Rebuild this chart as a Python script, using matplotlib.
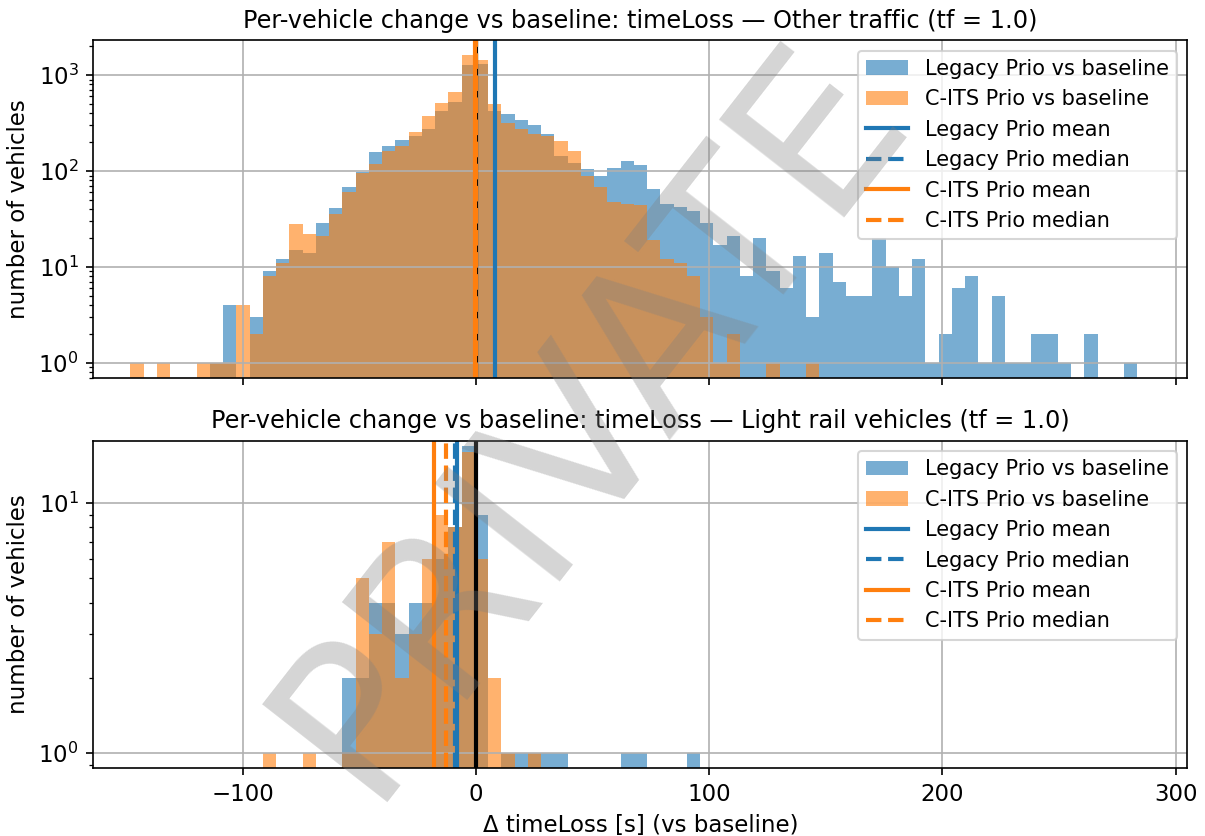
import matplotlib.pyplot as plt
import numpy as np

# bin edges shared by both panels (s)
bin_lo, bin_hi, n_bins = -148.1, 283.6, 76

# Other traffic: counts per bin
other_legacy = [0, 0, 0, 0, 0, 0, 1, 4, 0, 3, 9, 12, 15, 14, 29, 41, 69, 97, 158, 184,
                212, 230, 278, 428, 524, 1280, 1313, 428, 396, 343, 304, 243, 144, 121, 106, 90, 108, 127, 115, 65,
                45, 42, 38, 29, 17, 21, 8, 20, 9, 6, 13, 3, 14, 7, 5, 5, 20, 10, 5, 12,
                1, 2, 6, 8, 1, 5, 1, 1, 2, 2, 1, 0, 2, 0, 0, 1]
other_cits = [1, 0, 1, 0, 0, 1, 1, 1, 4, 2, 8, 11, 28, 22, 21, 36, 61, 95, 120, 163,
              181, 255, 380, 507, 665, 1629, 1432, 499, 316, 276, 245, 230, 207, 163, 88, 69, 48, 45, 44, 19,
              12, 11, 8, 3, 1, 2, 0, 0, 1, 0, 0, 1, 0, 0, 0, 0, 0, 0, 0, 0,
              0, 0, 0, 0, 0, 0, 0, 0, 0, 0, 0, 0, 0, 0, 0, 0]

# Light rail vehicles: counts per bin (bins 10..42, rest zero)
rail_first_bin = 10
rail_legacy = [0, 0, 0, 0, 0, 0, 2, 2, 4, 4, 3, 4, 4, 6, 8, 17, 9, 0, 1, 1, 1, 1, 1, 0, 0, 0, 0, 1, 1, 0, 0, 0, 1]
rail_cits = [1, 0, 0, 1, 0, 0, 1, 5, 3, 7, 2, 3, 6, 9, 8, 16, 6, 2, 1, 0, 1, 0, 0, 0, 0, 0, 0, 0, 0, 0, 0, 0, 0]

# mean / median (s)
other_stats = {'legacy': (8.4, 0.0), 'cits': (-0.2, 0.0)}
rail_stats = {'legacy': (-8.0, -9.0), 'cits': (-17.9, -12.7)}

edges = np.linspace(bin_lo, bin_hi, n_bins + 1)
centers = (edges[:-1] + edges[1:]) / 2


def pad(vals, first):
    full = np.zeros(n_bins)
    full[first:first + len(vals)] = vals
    return full


blue = 'tab:blue'
orange = 'tab:orange'

fig = plt.figure(figsize=(1205 / 150, 836 / 150), dpi=150)
ax1 = fig.add_axes([0.0774, 0.548, 0.9079, 0.404])
ax2 = fig.add_axes([0.0774, 0.081, 0.9079, 0.392], sharex=ax1)

panels = [
    (ax1, other_legacy, other_cits, other_stats, 'Other traffic'),
    (ax2, pad(rail_legacy, rail_first_bin), pad(rail_cits, rail_first_bin), rail_stats, 'Light rail vehicles'),
]

for ax, leg, cits, st, name in panels:
    ax.hist(centers, bins=edges, weights=leg, alpha=0.6, color=blue, label='Legacy Prio vs baseline', log=True)
    ax.hist(centers, bins=edges, weights=cits, alpha=0.6, color=orange, label='C-ITS Prio vs baseline', log=True)
    ax.axvline(0, color='k', lw=2)
    ax.axvline(st['legacy'][0], color=blue, lw=2, label='Legacy Prio mean')
    ax.axvline(st['legacy'][1], color=blue, lw=2, ls='--', label='Legacy Prio median')
    ax.axvline(st['cits'][0], color=orange, lw=2, label='C-ITS Prio mean')
    ax.axvline(st['cits'][1], color=orange, lw=2, ls='--', label='C-ITS Prio median')
    ax.set_title(f'Per-vehicle change vs baseline: timeLoss — {name} (tf = 1.0)', fontsize=11.5)
    ax.set_ylabel('number of vehicles', fontsize=11)
    ax.grid(True)
    ax.legend(loc='upper right', fontsize=10)

ax1.set_xlim(-164, 305)
ax1.set_ylim(0.7, 2320)
ax2.set_ylim(0.87, 17.8)
ax1.tick_params(labelbottom=False, labelsize=11)
ax2.tick_params(labelsize=11)
ax2.set_xlabel('Δ timeLoss [s] (vs baseline)', fontsize=11)

# watermark
fig.text(0.49, 0.5, 'PRIVATE', fontsize=104, color='gray', alpha=0.33,
         rotation=52, ha='center', va='center')

fig.savefig('out.png', dpi=150)
